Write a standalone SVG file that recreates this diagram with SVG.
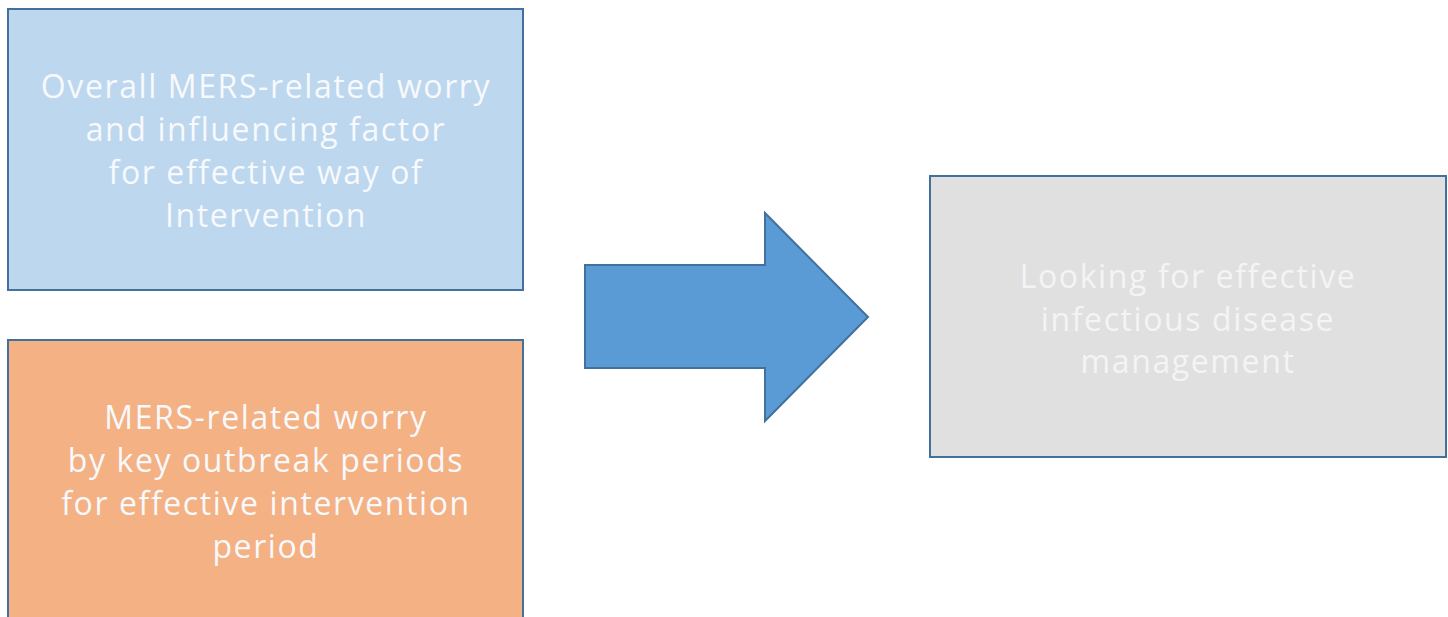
<svg xmlns="http://www.w3.org/2000/svg" width="1448" height="617" viewBox="0 0 1448 617">
<style>
.box{stroke:#41719C;stroke-width:2}
.t{font-family:"Open Sans","Liberation Sans",sans-serif;font-size:32px;letter-spacing:1.6px;fill:#F7F9FC;text-anchor:middle}
</style>
<rect width="1448" height="617" fill="#FFFFFF"/>
<g id="node-worry-overall">
<rect class="box" x="8" y="9" width="515" height="281" fill="#BDD7EE"/>
<text class="t" x="266"><tspan x="266" y="98">Overall MERS-related worry</tspan><tspan x="266" y="141">and influencing factor</tspan><tspan x="266" y="184">for effective way of</tspan><tspan x="266" y="227">Intervention</tspan></text>
</g>
<g id="node-worry-periods">
<rect class="box" x="8" y="340" width="515" height="290" fill="#F4B183"/>
<text class="t" x="266"><tspan x="266" y="429">MERS-related worry</tspan><tspan x="266" y="472">by key outbreak periods</tspan><tspan x="266" y="515">for effective intervention</tspan><tspan x="266" y="558">period</tspan></text>
</g>
<g id="connectors">
<polygon points="585,265 765,265 765,213 868,317 765,421 765,368 585,368" fill="#5B9BD5" stroke="#41719C" stroke-width="2" stroke-linejoin="miter"/>
</g>
<g id="node-management">
<rect class="box" x="930" y="176" width="516" height="281" fill="#E0E0E0"/>
<text class="t" x="1188" style="fill:#F4F4F4"><tspan x="1188" y="288">Looking for effective</tspan><tspan x="1188" y="331">infectious disease</tspan><tspan x="1188" y="373">management</tspan></text>
</g>
</svg>
